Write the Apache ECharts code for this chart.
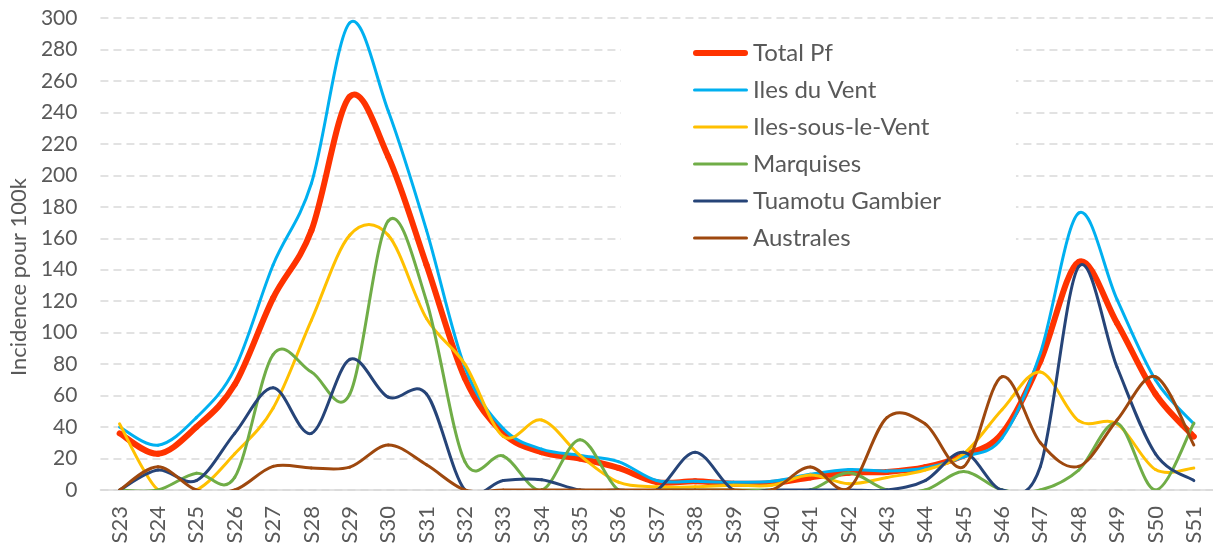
<!DOCTYPE html>
<html>
<head>
<meta charset="utf-8">
<script src="https://cdn.jsdelivr.net/npm/echarts@6/dist/echarts.min.js"></script>
<style>
html,body{margin:0;padding:0;background:#fff;}
#chart{width:1213px;height:547px;}
</style>
</head>
<body>
<div id="chart"></div>
<script>
const weeks = ['S23','S24','S25','S26','S27','S28','S29','S30','S31','S32','S33','S34','S35','S36','S37','S38','S39','S40','S41','S42','S43','S44','S45','S46','S47','S48','S49','S50','S51'];
const totalPf = [36,23,40,67,122,165,250,212,143,71,36,24,20,14,5,5.5,4,4.5,8,11,11.5,14.5,22,36,82,145,106,61,34];
const ilesDuVent = [40,28.5,46,77,143,195,297,241,165,78,39,26,22,18,6,5.5,5,5.5,10,13,12,14,21,33,87,176,121,70,42];
const ilesSousLeVent = [42,0,0,23,52,108,162,162,109,80,34,44.5,22,5,2,2,3,3,9.5,4,8,12.7,23,51,75,44,42,13,14];
const marquises = [0,0,10.6,8,86,75,61,171,120,18,21.6,0,32,0,0,0,0,0,0,11,0,0,11.7,0,0,12.7,42.5,0,42.5];
const tuamotuGambier = [0,12.7,6,36,65,36,83,59,61,0,6,6.5,0,0,0,24,0,0,0,0,0,6,24,0,15,142,78,23,6];
const australes = [0,14.8,0,0,15,14,14.5,28.6,16,0,0,0,0,0,0,0,0,0,14.6,1,46,42,14.8,72,30,15,44.5,72,28.6];

const seriesDefs = [
  {name:'Total Pf', data: totalPf, color:'#FF3300', width:6},
  {name:'Iles du Vent', data: ilesDuVent, color:'#00B0F0', width:3},
  {name:'Iles-sous-le-Vent', data: ilesSousLeVent, color:'#FFC000', width:3},
  {name:'Marquises', data: marquises, color:'#70AD47', width:3},
  {name:'Tuamotu Gambier', data: tuamotuGambier, color:'#264478', width:3},
  {name:'Australes', data: australes, color:'#9E480E', width:3}
];

// Smooth line (Excel-style Catmull-Rom Bezier) drawn segment by segment via the axes' scales
function makeSeries(def) {
  const arr = def.data;
  const n = arr.length;
  return {
    name: def.name,
    type: 'custom',
    clip: true,
    itemStyle: {color: def.color},
    encode: {x: 0, y: [1, 2]},
    data: arr.slice(0, n - 1).map((v, i) => [i, v, arr[i + 1]]),
    renderItem: function (params, api) {
      const i = api.value(0);
      const pt = k => { const kk = Math.max(0, Math.min(n - 1, k)); return api.coord([kk, arr[kk]]); };
      const p0 = pt(i - 1), p1 = pt(i), p2 = pt(i + 1), p3 = pt(i + 2);
      return {
        type: 'bezierCurve',
        shape: {
          x1: p1[0], y1: p1[1], x2: p2[0], y2: p2[1],
          cpx1: p1[0] + (p2[0] - p0[0]) / 6, cpy1: p1[1] + (p2[1] - p0[1]) / 6,
          cpx2: p2[0] - (p3[0] - p1[0]) / 6, cpy2: p2[1] - (p3[1] - p1[1]) / 6
        },
        style: {stroke: def.color, lineWidth: def.width, fill: null, lineCap: 'round', lineJoin: 'round'},
        silent: true
      };
    }
  };
}

const font = 'Lato, "Open Sans", sans-serif';
const chart = echarts.init(document.getElementById('chart'), null, {renderer:'canvas'});
chart.setOption({
  animation:false,
  backgroundColor:'#fff',
  grid:{left:96, right:0, top:18, bottom:57},
  legend:{
    orient:'vertical', left:621, top:33,
    padding:[8,75,8,72],
    backgroundColor:'#fff',
    itemWidth:55, itemHeight:14, itemGap:13,
    textStyle:{fontFamily:font, fontSize:24, color:'#595959', lineHeight:24},
    data: seriesDefs.map(s=>({
      name:s.name,
      icon: s.width > 4 ? 'path://M3,0h49a3,3 0 0 1 0,6h-49a3,3 0 0 1 0,-6z' : 'path://M1.5,0h52a1.5,1.5 0 0 1 0,3h-52a1.5,1.5 0 0 1 0,-3z',
      itemStyle:{color:s.color}
    }))
  },
  xAxis:{
    type:'category', data:weeks, boundaryGap:true,
    axisLine:{show:true, lineStyle:{color:'#D9D9D9', width:1.5}},
    axisTick:{show:false},
    axisLabel:{rotate:90, margin:16, fontFamily:font, fontSize:22, color:'#595959', interval:0}
  },
  yAxis:{
    type:'value', min:0, max:300, interval:20,
    name:'Incidence pour 100k', nameLocation:'middle', nameGap:65, nameRotate:90,
    nameTextStyle:{fontFamily:font, fontSize:22, color:'#595959', padding:[0,46,0,0]},
    axisLine:{show:false}, axisTick:{show:false},
    axisLabel:{margin:23, fontFamily:font, fontSize:21, color:'#595959'},
    splitLine:{show:true, lineStyle:{color:'#D9D9D9', width:1.5, type:[8,5]}}
  },
  series: seriesDefs.map(makeSeries)
});
</script>
</body>
</html>
